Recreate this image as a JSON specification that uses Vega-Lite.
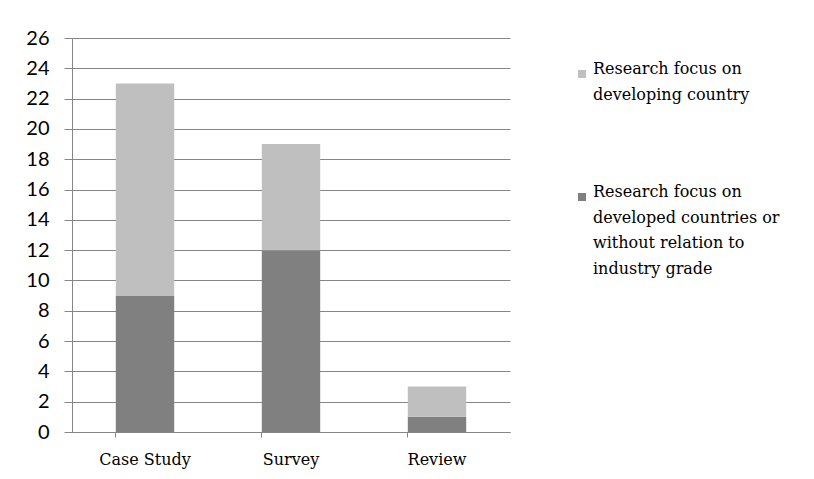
{
  "$schema": "https://vega.github.io/schema/vega-lite/v6.json",
  "width": 438,
  "height": 394,
  "autosize": {"type": "none"},
  "padding": {"left": 72, "top": 38, "right": 304, "bottom": 47},
  "background": "white",
  "config": {"view": {"stroke": null}, "style": {"guide-label": {"lineHeight": 25.5}}},
  "data": {
    "values": [
      {"type": "Case Study", "series": "Research focus on developed countries or without relation to industry grade", "ord": 1, "value": 9},
      {"type": "Case Study", "series": "Research focus on developing country", "ord": 2, "value": 14},
      {"type": "Survey", "series": "Research focus on developed countries or without relation to industry grade", "ord": 1, "value": 12},
      {"type": "Survey", "series": "Research focus on developing country", "ord": 2, "value": 7},
      {"type": "Review", "series": "Research focus on developed countries or without relation to industry grade", "ord": 1, "value": 1},
      {"type": "Review", "series": "Research focus on developing country", "ord": 2, "value": 2}
    ]
  },
  "mark": {"type": "bar"},
  "encoding": {
    "x": {
      "field": "type",
      "type": "nominal",
      "sort": ["Case Study", "Survey", "Review"],
      "scale": {"paddingInner": 0.6, "paddingOuter": 0.3},
      "axis": {
        "title": null,
        "labelAngle": 0,
        "labelFont": "DejaVu Serif",
        "labelFontSize": 16,
        "labelColor": "#000000",
        "labelPadding": 14,
        "domainColor": "#868686",
        "tickColor": "#868686",
        "tickSize": 5,
        "bandPosition": 0
      }
    },
    "y": {
      "field": "value",
      "type": "quantitative",
      "stack": "zero",
      "scale": {"domain": [0, 26], "nice": false},
      "axis": {
        "title": null,
        "values": [0, 2, 4, 6, 8, 10, 12, 14, 16, 18, 20, 22, 24, 26],
        "labelFont": "Lato",
        "labelFontSize": 20,
        "labelColor": "#000000",
        "labelPadding": 15,
        "labelFlush": false,
        "tickSize": 8,
        "tickColor": "#868686",
        "domainColor": "#868686",
        "gridColor": "#868686",
        "gridOpacity": 1
      }
    },
    "color": {
      "field": "series",
      "type": "nominal",
      "scale": {
        "domain": ["Research focus on developing country", "Research focus on developed countries or without relation to industry grade"],
        "range": ["#bfbfbf", "#808080"]
      },
      "legend": {
        "title": null,
        "orient": "none",
        "legendX": 502,
        "legendY": 28,
        "symbolType": "square",
        "symbolSize": 64,
        "symbolStrokeWidth": 0,
        "labelFont": "DejaVu Serif",
        "labelFontSize": 16,
        "labelColor": "#000000",
        "labelLimit": 300,
        "labelBaseline": "alphabetic",
        "labelOffset": 3,
        "rowPadding": 81,
        "labelExpr": "datum.label == 'Research focus on developing country' ? ['Research focus on', 'developing country'] : ['Research focus on', 'developed countries or', 'without relation to', 'industry grade']"
      }
    },
    "order": {"field": "ord", "type": "quantitative"}
  }
}
